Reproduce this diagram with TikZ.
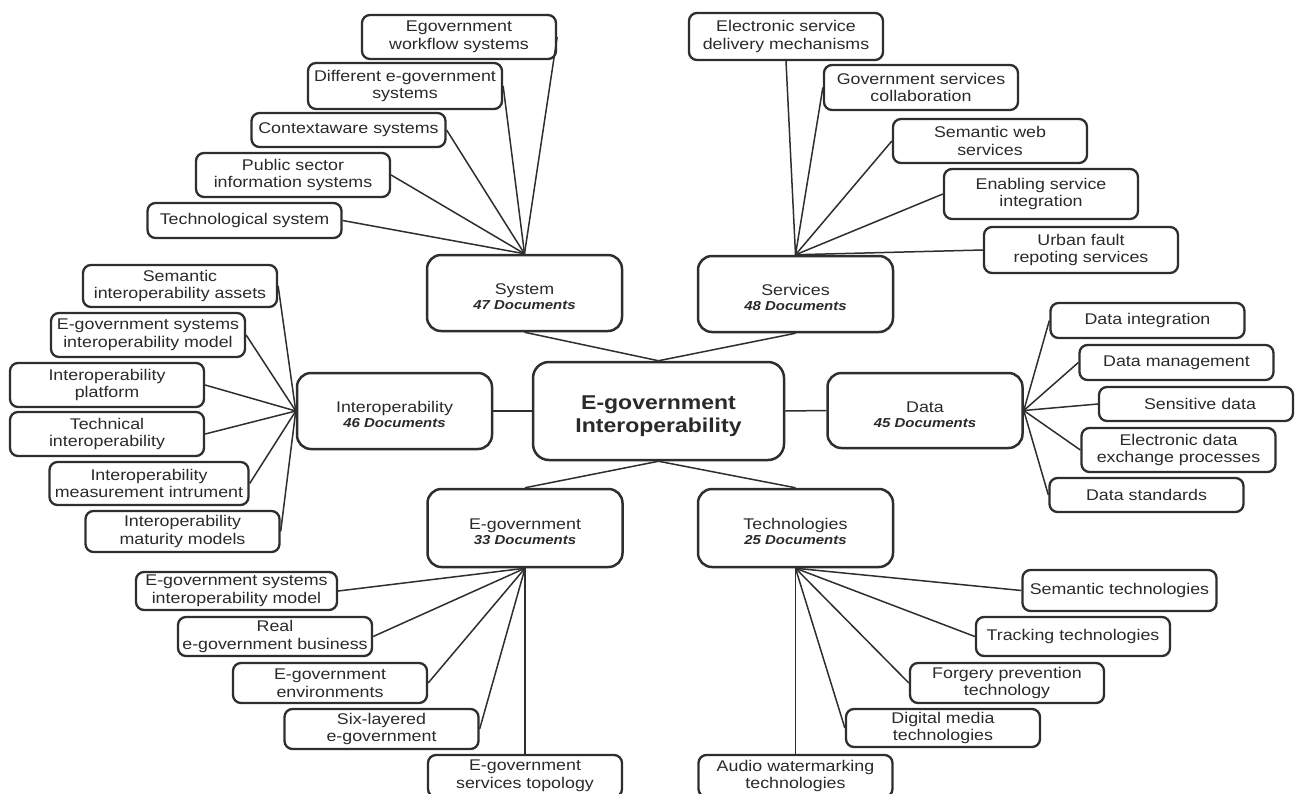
\documentclass[tikz,border=0pt]{standalone}
\usepackage{fontspec}
\setmainfont{Liberation Sans}[FakeStretch=1.15]
\definecolor{bord}{HTML}{2E2E2E}
\definecolor{txt}{HTML}{2A2A2A}
\begin{document}
\begin{tikzpicture}[x=1pt,y=-1pt,
  leaf/.style={draw=bord, line width=2.3pt, rounded corners=8pt, fill=white, text=txt,
    align=center, inner sep=0pt, minimum width=194pt,
    font=\fontsize{15.5}{17.5}\selectfont},
  cat/.style={draw=bord, line width=2.5pt, rounded corners=14pt, fill=white, text=txt,
    align=center, inner sep=0pt, minimum width=195pt, minimum height=76pt,
    font=\fontsize{15.5}{15}\selectfont},
  hubbox/.style={draw=bord, line width=2.5pt, rounded corners=16pt, fill=white, text=txt,
    align=center, inner sep=0pt, minimum width=251pt, minimum height=98pt,
    font=\fontsize{20}{23}\selectfont\bfseries},
  conn/.style={draw=bord, line width=1.5pt}]
\useasboundingbox (0,0) rectangle (1296,793);
\newcommand{\catlbl}[2]{\raisebox{-6pt}[\height][\depth]{\begin{tabular}{@{}c@{}}#1\\[0pt]{\fontsize{13}{14}\selectfont\bfseries\itshape #2 Documents}\end{tabular}}}

% central and categories
\node[hubbox] (c) at (658.5,411) {\raisebox{-5pt}[\height][\depth]{\begin{tabular}{@{}c@{}}E-government\\[0pt]Interoperability\end{tabular}}};
\node[cat] (sys) at (524.5,293) {\catlbl{System}{47}};
\node[cat] (ser) at (795.5,294) {\catlbl{Services}{48}};
\node[cat] (int) at (394.5,411) {\catlbl{Interoperability}{46}};
\node[cat, minimum height=75pt] (dat) at (925,410.5) {\catlbl{Data}{45}};
\node[cat, minimum height=78pt] (egv) at (525,528) {\catlbl{E-government}{33}};
\node[cat, minimum height=78pt] (tec) at (795.5,528) {\catlbl{Technologies}{25}};

% System leaves
\node[leaf, minimum height=44pt] (sy1) at (459,37) {Egovernment\\workflow systems};
\node[leaf, minimum height=46pt] (sy2) at (405,86) {Different e-government\\systems};
\node[leaf, minimum height=34pt] (sy3) at (348.5,130) {Contextaware systems};
\node[leaf, minimum height=44pt] (sy4) at (293,175) {Public sector\\information systems};
\node[leaf, minimum height=35pt] (sy5) at (244.5,220.5) {Technological system};

% Services leaves
\node[leaf, minimum height=47pt] (se1) at (786,36.5) {Electronic service\\delivery mechanisms};
\node[leaf, minimum height=45pt] (se2) at (921,87.5) {Government services\\collaboration};
\node[leaf, minimum height=44pt] (se3) at (990,141) {Semantic web\\services};
\node[leaf, minimum height=50pt] (se4) at (1041,194) {Enabling service\\integration};
\node[leaf, minimum height=46pt] (se5) at (1081,250) {Urban fault\\repoting services};

% Interoperability leaves
\node[leaf, minimum height=42pt] (in1) at (180,286) {Semantic\\interoperability assets};
\node[leaf, minimum height=44pt] (in2) at (148,335) {E-government systems\\interoperability model};
\node[leaf, minimum height=44pt] (in3) at (107,385) {Interoperability\\platform};
\node[leaf, minimum height=44pt] (in4) at (107,434) {Technical\\interoperability};
\node[leaf, minimum height=43pt, minimum width=199pt] (in5) at (149,483.5) {Interoperability\\measurement intrument};
\node[leaf, minimum height=41pt] (in6) at (182.5,531.5) {Interoperability\\maturity models};

% Data leaves
\node[leaf, minimum height=35pt] (da1) at (1147.5,320.5) {Data integration};
\node[leaf, minimum height=35pt] (da2) at (1176.5,362.5) {Data management};
\node[leaf, minimum height=34pt] (da3) at (1196,404) {\hspace*{8pt}Sensitive data};
\node[leaf, minimum height=44pt] (da4) at (1178.5,450) {Electronic data\\exchange processes};
\node[leaf, minimum height=34pt] (da5) at (1146.5,495) {Data standards};

% E-government leaves
\node[leaf, minimum height=38pt, minimum width=201pt] (eg1) at (236.5,591) {E-government systems\\interoperability model};
\node[leaf, minimum height=39pt] (eg2) at (275,636.5) {Real\\e-government business};
\node[leaf, minimum height=40pt] (eg3) at (330,683) {E-government\\environments};
\node[leaf, minimum height=40pt] (eg4) at (381.5,729) {Six-layered\\e-government};
\node[leaf, minimum height=42pt] (eg5) at (525,776) {E-government\\services topology};

% Technologies leaves
\node[leaf, minimum height=41pt] (te1) at (1119.5,590.5) {Semantic technologies};
\node[leaf, minimum height=39pt] (te2) at (1073,636.5) {Tracking technologies};
\node[leaf, minimum height=40pt] (te3) at (1007,683) {Forgery prevention\\technology};
\node[leaf, minimum height=38pt] (te4) at (943,728) {Digital media\\technologies};
\node[leaf, minimum height=42pt] (te5) at (795.5,776) {Audio watermarking\\technologies};

% connectors: centre to categories
\draw[conn] (c.north) -- (sys.south);
\draw[conn] (c.north) -- (ser.south);
\draw[conn] (c.west) -- (int.east);
\draw[conn] (c.east) -- (dat.west);
\draw[conn] (c.south) -- (egv.north);
\draw[conn] (c.south) -- (tec.north);

% System
\foreach \n in {sy1,sy2,sy3,sy4,sy5} \draw[conn] (sys.north) -- (\n.east);
% Services
\draw[conn] (ser.north) -- (se1.south);
\foreach \n in {se2,se3,se4,se5} \draw[conn] (ser.north) -- (\n.west);
% Interoperability
\foreach \n in {in1,in2,in3,in4,in5,in6} \draw[conn] (int.west) -- (\n.east);
% Data
\foreach \n in {da1,da2,da3,da4,da5} \draw[conn] (dat.east) -- (\n.west);
% E-government
\foreach \n in {eg1,eg2,eg3,eg4} \draw[conn] (egv.south) -- (\n.east);
\draw[conn] (egv.south) -- (eg5.north);
% Technologies
\foreach \n in {te1,te2,te3,te4} \draw[conn] (tec.south) -- (\n.west);
\draw[conn] (tec.south) -- (te5.north);
\end{tikzpicture}
\end{document}
